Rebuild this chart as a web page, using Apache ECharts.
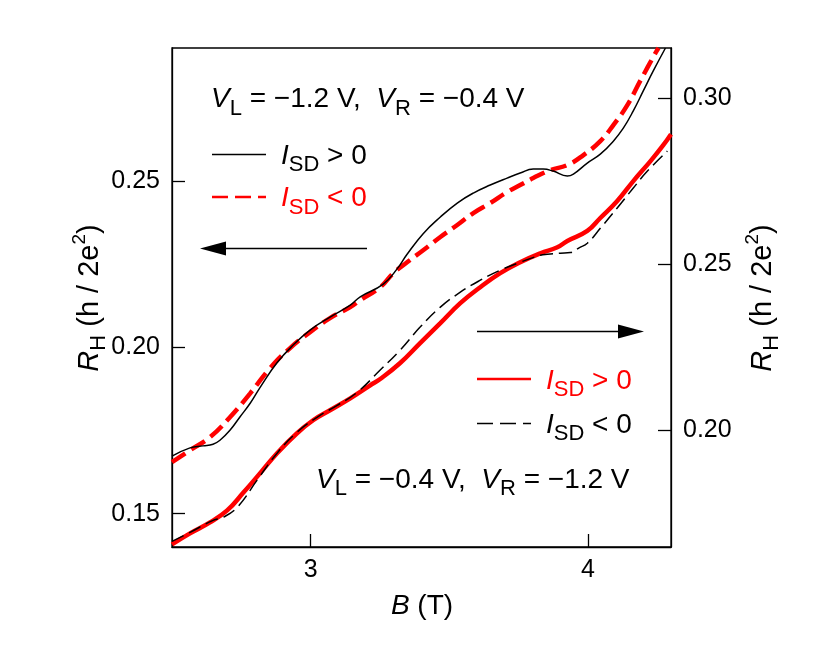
<!DOCTYPE html>
<html>
<head>
<meta charset="utf-8">
<script src="https://cdn.jsdelivr.net/npm/echarts@6/dist/echarts.min.js"></script>
<style>html,body{margin:0;padding:0;background:#fff}#c{width:830px;height:666px}</style>
</head>
<body>
<div id="c"></div>
<script>
// ---- data (B in tesla, R_H in h/2e^2) ----
// V_L=-1.2 V, V_R=-0.4 V  (left axis)
const upperPosB = [2.500, 2.565, 2.612, 2.648, 2.673, 2.709, 2.745, 2.782, 2.818, 2.878, 2.937, 2.998, 3.070, 3.143, 3.179, 3.262, 3.312, 3.348, 3.406, 3.468, 3.529, 3.587, 3.648, 3.709, 3.756, 3.803, 3.839, 3.875, 3.926, 3.948, 3.998, 4.045, 4.092, 4.128, 4.164, 4.200, 4.236, 4.280];
const upperPosR = [0.1673, 0.1698, 0.1704, 0.1709, 0.1721, 0.1751, 0.1791, 0.1832, 0.1880, 0.1953, 0.2007, 0.2052, 0.2091, 0.2127, 0.2152, 0.2190, 0.2236, 0.2280, 0.2342, 0.2392, 0.2434, 0.2464, 0.2488, 0.2509, 0.2524, 0.2536, 0.2536, 0.2530, 0.2515, 0.2521, 0.2554, 0.2581, 0.2620, 0.2659, 0.2711, 0.2771, 0.2831, 0.2900];
const upperNegB = [2.500, 2.565, 2.637, 2.709, 2.782, 2.854, 2.926, 2.998, 3.070, 3.143, 3.179, 3.251, 3.298, 3.348, 3.406, 3.468, 3.529, 3.587, 3.648, 3.709, 3.756, 3.803, 3.865, 3.926, 3.984, 4.045, 4.092, 4.143, 4.189, 4.244, 4.255];
const upperNegR = [0.1655, 0.1691, 0.1730, 0.1790, 0.1862, 0.1938, 0.1998, 0.2046, 0.2088, 0.2121, 0.2142, 0.2181, 0.2223, 0.2256, 0.2292, 0.2332, 0.2368, 0.2404, 0.2434, 0.2467, 0.2488, 0.2509, 0.2533, 0.2548, 0.2578, 0.2620, 0.2668, 0.2729, 0.2801, 0.2885, 0.2900];
// V_L=-0.4 V, V_R=-1.2 V  (right axis)
const lowerPosB = [2.500, 2.565, 2.637, 2.699, 2.756, 2.818, 2.879, 2.951, 3.009, 3.070, 3.143, 3.215, 3.251, 3.323, 3.395, 3.468, 3.540, 3.612, 3.684, 3.756, 3.829, 3.890, 3.926, 3.998, 4.045, 4.106, 4.164, 4.226, 4.272, 4.300];
const lowerPosR = [0.1658, 0.1691, 0.1724, 0.1760, 0.1812, 0.1872, 0.1932, 0.1992, 0.2031, 0.2061, 0.2097, 0.2136, 0.2155, 0.2203, 0.2263, 0.2323, 0.2383, 0.2431, 0.2473, 0.2506, 0.2533, 0.2551, 0.2570, 0.2600, 0.2639, 0.2690, 0.2750, 0.2810, 0.2858, 0.2891];
const lowerNegB = [2.500, 2.565, 2.648, 2.684, 2.735, 2.807, 2.879, 2.951, 3.023, 3.096, 3.168, 3.251, 3.323, 3.395, 3.468, 3.540, 3.612, 3.684, 3.756, 3.829, 3.854, 3.901, 3.937, 3.970, 3.998, 4.045, 4.106, 4.164, 4.215, 4.287];
const lowerNegR = [0.1667, 0.1694, 0.1730, 0.1739, 0.1769, 0.1851, 0.1932, 0.1995, 0.2040, 0.2076, 0.2115, 0.2182, 0.2242, 0.2311, 0.2371, 0.2416, 0.2452, 0.2482, 0.2506, 0.2527, 0.2530, 0.2533, 0.2535, 0.2550, 0.2563, 0.2608, 0.2669, 0.2729, 0.2780, 0.2840];
// ticks
const xTicks = [3, 4];
const leftTicks = [0.15, 0.20, 0.25];
const rightTicks = [0.20, 0.25, 0.30];

const FF = '"Liberation Sans", Arial, Helvetica, sans-serif';
function zip(a, b) { return a.map((x, i) => [x, b[i]]); }
function rt(size, italic, lh, va) {
  return { fontSize: size, fontFamily: FF, fontStyle: italic ? 'italic' : 'normal', lineHeight: lh, verticalAlign: va,
           font: (italic ? 'italic ' : '') + size + 'px ' + FF };
}
const annRich = { n: rt(28, false, 40, 'middle'), i: rt(28, true, 40, 'middle'), s: rt(22, false, 22, 'bottom') };
const titleRich = { n: rt(29, false, 40, 'middle'), i: rt(29, true, 40, 'middle'), s: rt(22, false, 23, 'bottom'), p: rt(19, false, 18, 'top') };
const xTitleRich = { n: rt(28, false, 32, 'middle'), i: rt(28, true, 32, 'middle') };

function txt(x, y, text, color, rich, align, rot) {
  return { type: 'text', x: x, y: y, rotation: rot || 0, silent: true,
    style: { text: text, rich: rich, fill: color, align: align, verticalAlign: 'middle',
             fontSize: 28, fontFamily: FF, font: '28px ' + FF } };
}
function seg(x1, y1, x2, y2, color, w, dash) {
  return { type: 'line', silent: true, shape: { x1: x1, y1: y1, x2: x2, y2: y2 },
    style: { stroke: color, lineWidth: w, lineDash: dash || null } };
}
function tri(pts) { return { type: 'polygon', silent: true, shape: { points: pts }, style: { fill: '#000' } }; }

const chart = echarts.init(document.getElementById('c'), null, { renderer: 'canvas' });
const axisLine = { show: true, onZero: false, lineStyle: { color: '#000', width: 1.3 } };
const tickStyle = { color: '#000', width: 1.3 };
chart.setOption({
  animation: false,
  backgroundColor: '#fff',
  textStyle: { fontFamily: FF },
  grid: { left: 172, top: 48, width: 499, height: 499, show: true, borderColor: '#000', borderWidth: 1.3,
          backgroundColor: 'transparent', containLabel: false, outerBoundsMode: 'none' },
  xAxis: {
    type: 'value', min: 2.5, max: 4.3, position: 'bottom',
    axisLine: axisLine,
    axisTick: { show: true, inside: true, length: 13, lineStyle: tickStyle, customValues: xTicks },
    axisLabel: { customValues: xTicks, color: '#000', fontSize: 25, margin: 11, fontFamily: FF },
    splitLine: { show: false }
  },
  yAxis: [
    { type: 'value', min: 0.14, max: 0.29, position: 'left',
      axisLine: axisLine,
      axisTick: { show: true, inside: true, length: 13, lineStyle: tickStyle, customValues: leftTicks },
      axisLabel: { customValues: leftTicks, color: '#000', fontSize: 25, margin: 12, fontFamily: FF,
                   formatter: v => v.toFixed(2) },
      splitLine: { show: false } },
    { type: 'value', min: 0.165, max: 0.315, position: 'right',
      axisLine: axisLine,
      axisTick: { show: true, inside: true, length: 13, lineStyle: tickStyle, customValues: rightTicks },
      axisLabel: { customValues: rightTicks, color: '#000', fontSize: 25, margin: 12, fontFamily: FF,
                   formatter: v => v.toFixed(2) },
      splitLine: { show: false } }
  ],
  series: [
    { name: 'VL=-1.2, ISD<0', type: 'line', yAxisIndex: 0, data: zip(upperNegB, upperNegR), symbol: 'none',
      smooth: 0.45, lineStyle: { color: '#ff0000', width: 4.5, type: [16, 7] }, z: 2 },
    { name: 'VL=-0.4, ISD>0', type: 'line', yAxisIndex: 1, data: zip(lowerPosB, lowerPosR), symbol: 'none',
      smooth: 0.45, lineStyle: { color: '#ff0000', width: 4.5 }, z: 2 },
    { name: 'VL=-1.2, ISD>0', type: 'line', yAxisIndex: 0, data: zip(upperPosB, upperPosR), symbol: 'none',
      smooth: 0.45, lineStyle: { color: '#000', width: 1.5 }, z: 3 },
    { name: 'VL=-0.4, ISD<0', type: 'line', yAxisIndex: 1, data: zip(lowerNegB, lowerNegR), symbol: 'none',
      smooth: 0.45, lineStyle: { color: '#000', width: 1.5, type: [13, 6] }, z: 3 }
  ],
  graphic: { elements: [
    txt(422, 606, '{i|B}{n| (T)}', '#000', xTitleRich, 'center'),
    txt(90, 298, '{i|R}{s|H}{n| (h / 2e}{p|2}{n|)}', '#000', titleRich, 'center', Math.PI / 2),
    txt(763, 298, '{i|R}{s|H}{n| (h / 2e}{p|2}{n|)}', '#000', titleRich, 'center', Math.PI / 2),
    txt(211, 99.6, '{i|V}{s|L}{n| = \u22121.2 V,  }{i|V}{s|R}{n| = \u22120.4 V}', '#000', annRich, 'left'),
    seg(212, 154.5, 266, 154.5, '#000', 1.5),
    txt(281, 156.3, '{i|I}{s|SD}{n| > 0}', '#000', annRich, 'left'),
    seg(212, 197, 266, 197, '#ff0000', 2.5, [16, 7]),
    txt(281, 198.6, '{i|I}{s|SD}{n| < 0}', '#ff0000', annRich, 'left'),
    seg(224, 248.5, 367, 248.5, '#000', 1.5),
    tri([[200, 248.5], [226, 241.5], [226, 255.5]]),
    seg(477, 331.5, 620, 331.5, '#000', 1.5),
    tri([[644, 331.5], [618, 324.5], [618, 338.5]]),
    seg(477, 379, 531, 379, '#ff0000', 2.5),
    txt(546, 381, '{i|I}{s|SD}{n| > 0}', '#ff0000', annRich, 'left'),
    seg(477, 423.5, 531, 423.5, '#000', 1.5, [16, 7]),
    txt(546, 425.3, '{i|I}{s|SD}{n| < 0}', '#000', annRich, 'left'),
    txt(316, 480.3, '{i|V}{s|L}{n| = \u22120.4 V,  }{i|V}{s|R}{n| = \u22121.2 V}', '#000', annRich, 'left')
  ] }
});
</script>
</body>
</html>
